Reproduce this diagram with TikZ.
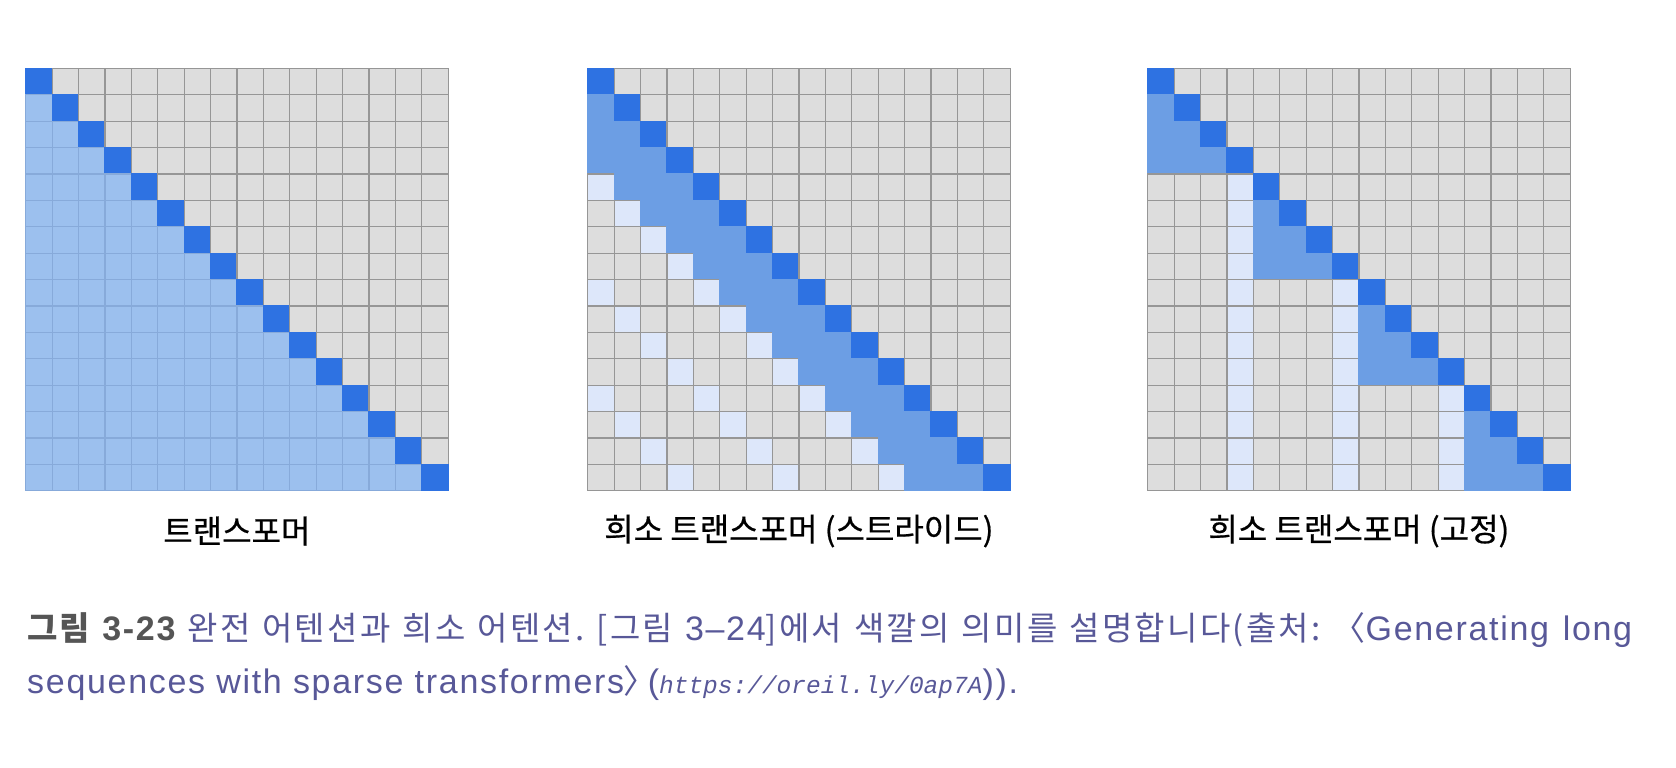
\documentclass[tikz,border=0pt]{standalone}
\usepackage{fontspec}
\setmainfont{Noto Sans CJK KR}
\newfontfamily\lblfont[FakeBold=0.6]{Noto Sans CJK KR}
\newfontfamily\capcjk[LetterSpace=7]{Noto Sans CJK KR}
\newfontfamily\capnarrow[RawFeature=+palt]{Noto Sans CJK KR}
\newfontfamily\caplatin[LetterSpace=5]{Liberation Sans}
\newfontfamily\urlfont{Liberation Mono}
\newcommand\capl[1]{{\caplatin\fontsize{34}{40}\selectfont #1}}
\frenchspacing

\definecolor{c0}{RGB}{221,221,221}
\definecolor{c1}{RGB}{46,114,226}
\definecolor{c2}{RGB}{156,192,238}
\definecolor{c3}{RGB}{108,158,228}
\definecolor{c4}{RGB}{221,231,250}
\definecolor{e0}{RGB}{150,150,150}
\definecolor{e1}{RGB}{46,114,226}
\definecolor{e2}{RGB}{135,170,218}
\definecolor{e3}{RGB}{108,158,228}
\definecolor{e4}{RGB}{150,150,150}
\definecolor{capgray}{RGB}{85,85,85}
\definecolor{capblue}{RGB}{88,88,152}

\tikzset{
	cell/.style={line width=1.2pt},
	lbl/.style={font=\lblfont\fontsize{32}{38}\selectfont, text=black},
	captext/.style={font=\capcjk\fontsize{33}{38}\selectfont, text=capblue, anchor=base west, inner sep=0pt}
}

\begin{document}
\begin{tikzpicture}[x=1pt, y=-1pt]
	\useasboundingbox (0,0) rectangle (1676,768);

	% full attention
	\foreach \i in {0,...,15} {
		\foreach \j in {0,...,15} {
			\pgfmathtruncatemacro{\kind}{\i==\j ? 1 : (\j<\i ? 2 : 0)}
			\filldraw[cell, fill=c\kind, draw=e\kind] (25.7+26.4*\j, 68.3+26.4*\i) rectangle ++(26.4,26.4);
		}
	}

	% strided
	\foreach \i in {0,...,15} {
		\foreach \j in {0,...,15} {
			\pgfmathtruncatemacro{\kind}{\i==\j ? 1 : ((\j<\i && \i-\j<4) ? 3 : ((\j<\i && mod(\i-\j,4)==0) ? 4 : 0))}
			\filldraw[cell, fill=c\kind, draw=e\kind] (587.7+26.4*\j, 68.3+26.4*\i) rectangle ++(26.4,26.4);
		}
	}

	% fixed
	\foreach \i in {0,...,15} {
		\foreach \j in {0,...,15} {
			\pgfmathtruncatemacro{\kind}{\i==\j ? 1 : ((\j<\i && floor(\i/4)==floor(\j/4)) ? 3 : ((mod(\j,4)==3 && floor(\i/4)>floor(\j/4)) ? 4 : 0))}
			\filldraw[cell, fill=c\kind, draw=e\kind] (1147.7+26.4*\j, 68.3+26.4*\i) rectangle ++(26.4,26.4);
		}
	}

	\node[lbl] (fulllbl)   at (236.9,531)  {트랜스포머};
	\node[lbl] (stridelbl) at (798.9,531)  {희소 트랜스포머 (스트라이드)};
	\node[lbl] (fixedlbl)  at (1358.9,531) {희소 트랜스포머 (고정)};

	\node[captext] (capline1) at (27,640) {\hbox to 1605pt{{\bfseries\color{capgray}그림 \capl{3-23}} 완전 어텐션과 희소 어텐션. [그림 \capl{3–24}]에서 색깔의 의미를 설명합니다(출처: 〈\capl{Generating long}}};
	\node[captext] (capline2) at (27,693) {\capl{sequences with sparse transformers}{\capnarrow 〉}\hspace{7pt}\capl{(}{\urlfont\itshape\fontsize{24.5}{30}\selectfont https://oreil.ly/0ap7A}\capl{)).}};
\end{tikzpicture}
\end{document}
